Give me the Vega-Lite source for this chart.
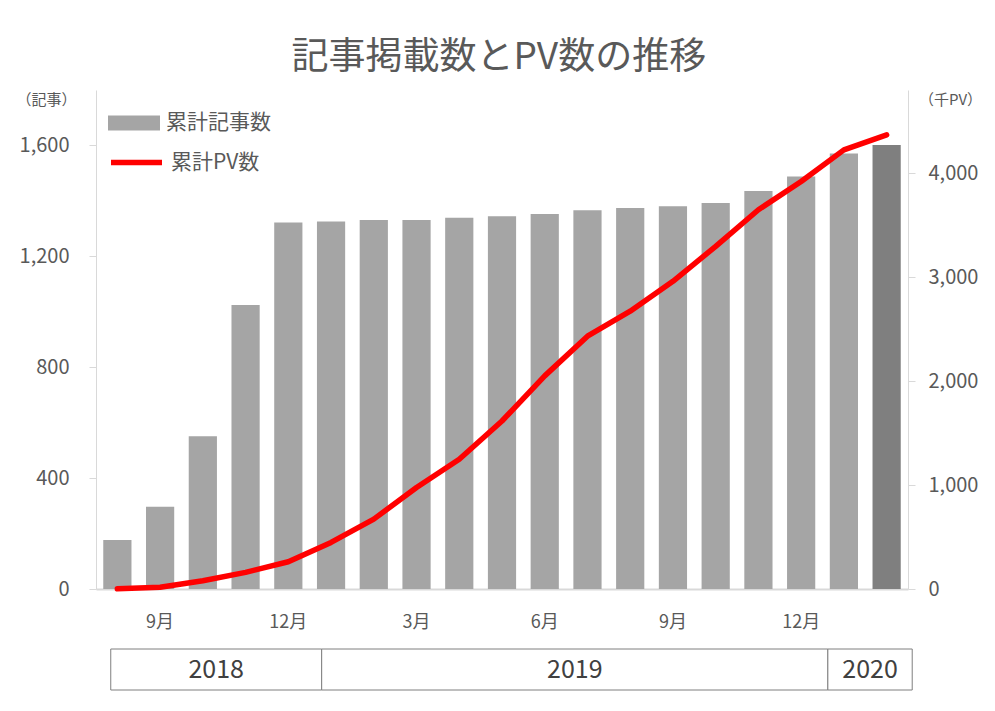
{
  "$schema": "https://vega.github.io/schema/vega-lite/v6.json",
  "padding": {"left": 15, "top": 39, "right": 5, "bottom": 5},
  "background": "white",
  "title": {
    "text": "記事掲載数とPV数の推移",
    "fontSize": 37,
    "font": "Noto Sans CJK JP",
    "fontWeight": "normal",
    "color": "#595959",
    "anchor": "middle",
    "offset": 13
  },
  "datasets": {
    "monthly": [
      {"month": "2018-08", "articles": 177, "pv": 2},
      {"month": "2018-09", "articles": 297, "pv": 16},
      {"month": "2018-10", "articles": 551, "pv": 80},
      {"month": "2018-11", "articles": 1024, "pv": 160},
      {"month": "2018-12", "articles": 1322, "pv": 262},
      {"month": "2019-01", "articles": 1326, "pv": 448},
      {"month": "2019-02", "articles": 1331, "pv": 672},
      {"month": "2019-03", "articles": 1331, "pv": 976},
      {"month": "2019-04", "articles": 1339, "pv": 1248},
      {"month": "2019-05", "articles": 1345, "pv": 1616},
      {"month": "2019-06", "articles": 1353, "pv": 2050},
      {"month": "2019-07", "articles": 1366, "pv": 2432},
      {"month": "2019-08", "articles": 1374, "pv": 2672},
      {"month": "2019-09", "articles": 1381, "pv": 2960},
      {"month": "2019-10", "articles": 1392, "pv": 3296},
      {"month": "2019-11", "articles": 1436, "pv": 3648},
      {"month": "2019-12", "articles": 1488, "pv": 3920},
      {"month": "2020-01", "articles": 1571, "pv": 4224},
      {"month": "2020-02", "articles": 1602, "pv": 4368}
    ],
    "years": [
      {"year": "2018", "start": 0, "end": 5},
      {"year": "2019", "start": 5, "end": 17},
      {"year": "2020", "start": 17, "end": 19}
    ]
  },
  "spacing": 17,
  "vconcat": [
    {
      "width": 812,
      "height": 499,
      "data": {"name": "monthly"},
      "layer": [
        {
          "mark": {"type": "bar"},
          "encoding": {
            "x": {
              "field": "month",
              "type": "ordinal",
              "scale": {"paddingInner": 0.34, "paddingOuter": 0.17},
              "axis": {
                "values": ["2018-09", "2018-12", "2019-03", "2019-06", "2019-09", "2019-12"],
                "labelExpr": "toNumber(slice(datum.value, 5)) + '月'",
                "title": null,
                "ticks": false,
                "labelAngle": 0,
                "labelFontSize": 18,
                "labelColor": "#595959",
                "labelPadding": 24,
                "domainColor": "#d9d9d9",
                "domainWidth": 2,
                "grid": false
              }
            },
            "y": {
              "field": "articles",
              "type": "quantitative",
              "scale": {"domain": [0, 1800], "nice": false},
              "axis": {
                "values": [0, 400, 800, 1200, 1600],
                "format": ",d",
                "title": "（記事）",
                "titleAngle": 0,
                "titleX": -50,
                "titleY": 9,
                "titleAlign": "center",
                "titleBaseline": "middle",
                "titleFontSize": 15,
                "titleFontWeight": "normal",
                "titleColor": "#595959",
                "labelFontSize": 20,
                "labelColor": "#595959",
                "labelPadding": 20,
                "tickSize": 7,
                "tickColor": "#d9d9d9",
                "domainColor": "#d9d9d9",
                "grid": false
              }
            },
            "fill": {
              "condition": {"test": "datum.month === '2020-02'", "value": "#7f7f7f"},
              "datum": "累計記事数",
              "type": "nominal",
              "scale": {"range": ["#a5a5a5"]},
              "legend": {
                "orient": "none",
                "legendX": 12,
                "legendY": 7,
                "title": null,
                "padding": 0,
                "symbolType": "M-1,-0.29H1V0.29H-1Z",
                "symbolSize": 2704,
                "symbolStrokeWidth": 0,
                "labelFontSize": 21,
                "labelColor": "#595959",
                "labelOffset": 6
              }
            }
          }
        },
        {
          "mark": {"type": "line", "strokeWidth": 5.5, "strokeCap": "round", "strokeJoin": "round"},
          "encoding": {
            "x": {"field": "month", "type": "ordinal"},
            "y": {
              "field": "pv",
              "type": "quantitative",
              "scale": {"domain": [0, 4800], "nice": false},
              "axis": {
                "orient": "right",
                "values": [0, 1000, 2000, 3000, 4000],
                "format": ",d",
                "title": "（千PV）",
                "titleAngle": 0,
                "titleX": 42,
                "titleY": 9,
                "titleAlign": "center",
                "titleBaseline": "middle",
                "titleFontSize": 15,
                "titleFontWeight": "normal",
                "titleColor": "#595959",
                "labelFontSize": 20,
                "labelColor": "#595959",
                "labelPadding": 13,
                "tickSize": 7,
                "tickColor": "#d9d9d9",
                "domainColor": "#d9d9d9",
                "grid": false
              }
            },
            "stroke": {
              "datum": "累計PV数",
              "type": "nominal",
              "scale": {"range": ["#ff0000"]},
              "legend": {
                "orient": "none",
                "legendX": 12,
                "legendY": 44,
                "title": null,
                "padding": 0,
                "symbolType": "stroke",
                "symbolSize": 2601,
                "symbolStrokeWidth": 5.5,
                "labelFontSize": 21,
                "labelColor": "#595959",
                "labelOffset": 6
              }
            }
          }
        }
      ],
      "resolve": {"scale": {"y": "independent"}}
    },
    {
      "width": 812,
      "height": 41,
      "data": {"name": "years"},
      "transform": [{"calculate": "(datum.start + datum.end) / 2", "as": "mid"}],
      "layer": [
        {
          "mark": {"type": "rect", "fill": "white", "stroke": "#7f7f7f", "strokeWidth": 1},
          "encoding": {
            "x": {
              "field": "start",
              "type": "quantitative",
              "scale": {"domain": [-0.35, 18.9], "nice": false, "zero": false},
              "axis": null
            },
            "x2": {"field": "end"}
          }
        },
        {
          "mark": {"type": "text", "fontSize": 25, "color": "#404040"},
          "encoding": {
            "x": {"field": "mid", "type": "quantitative"},
            "text": {"field": "year"}
          }
        }
      ]
    }
  ],
  "config": {
    "view": {"stroke": null},
    "font": "Noto Sans CJK JP"
  }
}
